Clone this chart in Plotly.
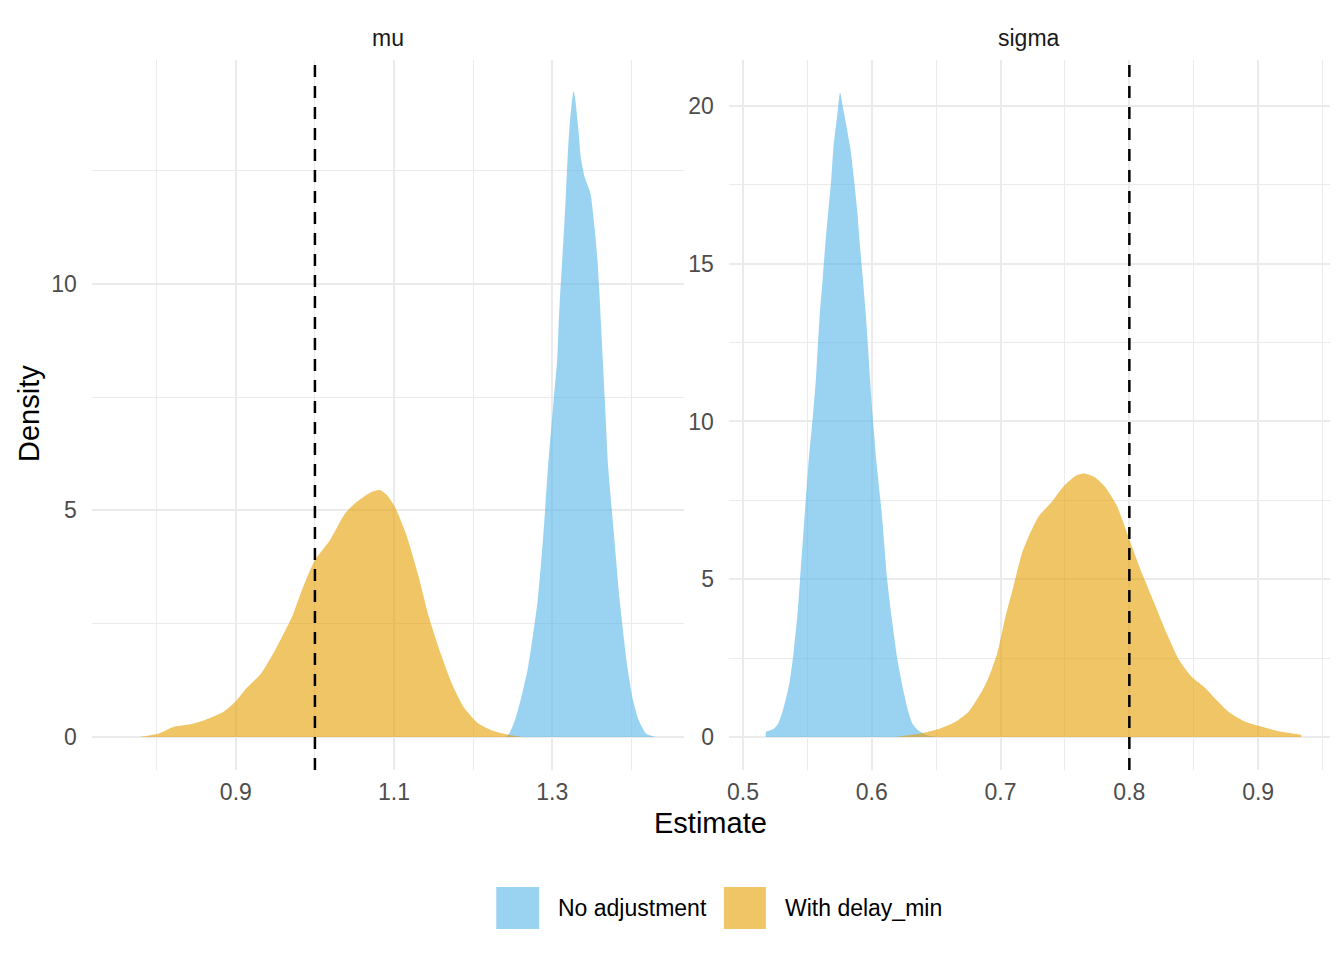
import plotly.graph_objects as go

# density estimates
mu_noadj_x = [1.2407, 1.2455, 1.2528, 1.260, 1.2696, 1.2817, 1.2889, 1.2947, 1.3019, 1.3063,
              1.3080, 1.3101, 1.3127, 1.3152, 1.3173, 1.3194, 1.3219, 1.3269, 1.3286, 1.3328,
              1.3366, 1.3408, 1.3483, 1.3534, 1.3572, 1.3597, 1.3618, 1.3640, 1.3665, 1.3708,
              1.3780, 1.3853, 1.3950, 1.4022, 1.4094, 1.4190, 1.4310]
mu_noadj_y = [0.0, 0.07, 0.37, 0.81, 1.55, 3.02, 4.49, 5.96, 7.44, 8.32,
              9.06, 9.79, 10.53, 11.27, 12.0, 12.74, 13.47, 14.25, 14.14, 13.47,
              12.74, 12.37, 12.0, 11.27, 10.53, 9.79, 9.06, 8.32, 7.44, 5.96,
              4.49, 3.02, 1.55, 0.81, 0.37, 0.07, 0.0]

mu_delay_x = [0.778, 0.802, 0.821, 0.846, 0.865, 0.884, 0.899, 0.913, 0.932, 0.952,
              0.971, 0.985, 1.000, 1.019, 1.038, 1.053, 1.072, 1.082, 1.091, 1.101,
              1.115, 1.130, 1.144, 1.159, 1.173, 1.188, 1.207, 1.226, 1.246, 1.262]
mu_delay_y = [0.0, 0.07, 0.22, 0.29, 0.40, 0.55, 0.77, 1.07, 1.40, 1.99,
              2.65, 3.31, 3.90, 4.34, 4.93, 5.19, 5.41, 5.45, 5.34, 5.08,
              4.49, 3.61, 2.65, 1.84, 1.18, 0.66, 0.29, 0.13, 0.04, 0.0]

sigma_noadj_x = [0.5177, 0.5240, 0.5273, 0.5311, 0.5360, 0.5395, 0.5424, 0.5443, 0.5469, 0.5507,
                 0.5545, 0.5566, 0.5581, 0.5597, 0.5618, 0.5638, 0.5661, 0.5685, 0.5703, 0.5734,
                 0.5754, 0.5785, 0.5832, 0.5863, 0.5889, 0.5909, 0.5932, 0.5953, 0.5971, 0.5987,
                 0.6005, 0.6040, 0.6080, 0.6120, 0.6157, 0.6200, 0.6250, 0.6280, 0.6316, 0.6360,
                 0.6430, 0.6490]
sigma_noadj_y = [0.16, 0.26, 0.42, 0.85, 1.69, 2.75, 3.92, 4.98, 6.46, 8.58,
                 10.26, 11.32, 12.37, 13.43, 14.48, 15.54, 16.6, 17.65, 18.71, 19.77,
                 20.43, 19.77, 18.71, 17.65, 16.6, 15.54, 14.48, 13.43, 12.37, 11.32,
                 10.26, 8.58, 6.99, 4.98, 3.71, 2.44, 1.38, 0.85, 0.42, 0.21,
                 0.05, 0.0]

sigma_delay_x = [0.6188, 0.6364, 0.6525, 0.6650, 0.6750, 0.6846, 0.6910, 0.6974, 0.7038, 0.7100,
                 0.7167, 0.7230, 0.7295, 0.7392, 0.7488, 0.7584, 0.7648, 0.7729, 0.7809, 0.7905,
                 0.8001, 0.8098, 0.8194, 0.8290, 0.8386, 0.8483, 0.8579, 0.8676, 0.8772, 0.8900,
                 0.9030, 0.9157, 0.9334]
sigma_delay_y = [0.0, 0.10, 0.26, 0.48, 0.79, 1.38, 1.91, 2.65, 3.81, 4.77,
                 5.83, 6.46, 6.99, 7.42, 7.94, 8.28, 8.35, 8.24, 7.94, 7.31,
                 6.25, 5.19, 4.24, 3.28, 2.44, 1.91, 1.59, 1.17, 0.79, 0.48,
                 0.32, 0.18, 0.07]

true_values = [1.0, 0.8]
facets = ["mu", "sigma"]
groups = ["No adjustment", "With delay_min"]
fills = ["rgba(86,180,233,0.6)", "rgba(230,159,0,0.6)"]

# page body has an 8px margin, so the figure is a bit smaller and all
# positions below (measured on the 1344x960 screenshot) are shifted by it
OFF = 8
W, H = 1344 - OFF, 960 - OFF
FONT = "Liberation Sans, Arial, sans-serif"
GRID = "#EBEBEB"


def px(v):
    return (v - OFF) / W


def py(v):
    return 1 - (v - OFF) / H


fig = go.Figure()

series = [
    (mu_noadj_x, mu_noadj_y, 0, "x", "y"),
    (mu_delay_x, mu_delay_y, 1, "x", "y"),
    (sigma_noadj_x, sigma_noadj_y, 0, "x2", "y2"),
    (sigma_delay_x, sigma_delay_y, 1, "x2", "y2"),
]
for xs, ys, g, xa, ya in series:
    fig.add_trace(go.Scatter(
        x=xs, y=ys, xaxis=xa, yaxis=ya, mode="lines",
        line=dict(width=0, shape="spline", smoothing=0.6),
        fill="tozeroy", fillcolor=fills[g], name=groups[g],
        showlegend=False, hoverinfo="x+y+name"))

# true parameter values
for i, v in enumerate(true_values):
    xr = "x" if i == 0 else "x2"
    yr = "y domain" if i == 0 else "y2 domain"
    fig.add_shape(type="line", xref=xr, yref=yr, x0=v, x1=v, y0=0, y1=1,
                  line=dict(color="black", width=2.5, dash="12px,9px"), layer="above")

tickfont = dict(family=FONT, size=23, color="#4D4D4D")


def axis(domain, rng, dtick, tick0, minor_dtick, anchor, standoff):
    return dict(domain=domain, range=rng, dtick=dtick, tick0=tick0, anchor=anchor,
                showgrid=True, gridcolor=GRID, gridwidth=2, zeroline=False,
                showline=False, ticks="", tickfont=tickfont, ticklabelstandoff=standoff,
                minor=dict(dtick=minor_dtick, tick0=tick0, showgrid=True,
                           gridcolor=GRID, gridwidth=1, ticks=""),
                fixedrange=True)


ydom = [py(770), py(60)]
fig.update_layout(
    width=W, height=H,
    margin=dict(l=0, r=0, t=0, b=0),
    plot_bgcolor="white", paper_bgcolor="white",
    font=dict(family=FONT, color="black"),
    xaxis=axis([px(90), px(683)], [0.718, 1.4666], 0.2, 0.9, 0.1, "y", 6),
    yaxis=axis(ydom, [-0.73, 14.94], 5, 0, 2.5, "x", 14),
    xaxis2=axis([px(728), px(1330)], [0.4891, 0.9558], 0.1, 0.5, 0.05, "y2", 6),
    yaxis2=axis(ydom, [-1.05, 21.46], 5, 0, 2.5, "x2", 14),
)

# facet strip labels
for label, cx in zip(facets, [386.5, 1029]):
    fig.add_annotation(text=label, x=px(cx), y=py(38), xref="paper", yref="paper",
                       showarrow=False, xanchor="center", yanchor="middle",
                       font=dict(family=FONT, size=23, color="#1A1A1A"))

# shared axis titles
fig.add_annotation(text="Estimate", x=px(710), y=py(823), xref="paper", yref="paper",
                   showarrow=False, xanchor="center", yanchor="middle",
                   font=dict(family=FONT, size=29, color="black"))
fig.add_annotation(text="Density", x=px(27), y=py(413), xref="paper", yref="paper",
                   showarrow=False, xanchor="center", yanchor="middle", textangle=-90,
                   font=dict(family=FONT, size=29, color="black"))

# legend at the bottom
keys = [(495, 538, 555), (723, 765, 782)]
for g, (k0, k1, tx) in enumerate(keys):
    fig.add_shape(type="rect", xref="paper", yref="paper",
                  x0=px(k0), x1=px(k1), y0=py(929), y1=py(887),
                  fillcolor=fills[g], line=dict(width=0))
    fig.add_annotation(text=groups[g], x=px(tx), y=py(908), xref="paper", yref="paper",
                       showarrow=False, xanchor="left", yanchor="middle",
                       font=dict(family=FONT, size=23, color="black"))

fig.write_html("out.html")
